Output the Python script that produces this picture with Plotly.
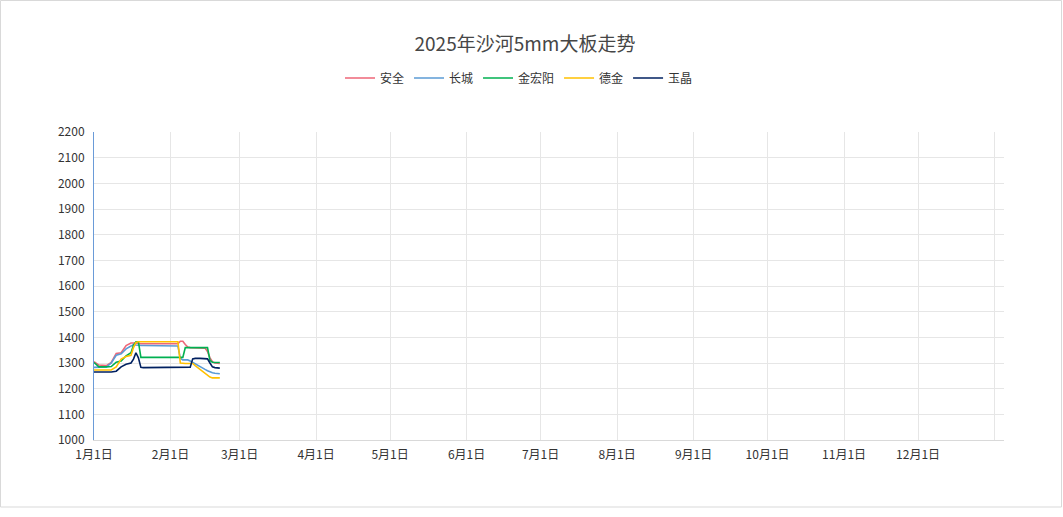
import plotly.graph_objects as go

# 2025 daily quotes (yuan/ton), sampled where the lines change
dates = [
    "2025-01-01", "2025-01-03", "2025-01-06", "2025-01-08", "2025-01-10",
    "2025-01-12", "2025-01-14", "2025-01-16", "2025-01-17", "2025-01-18",
    "2025-01-19", "2025-01-20", "2025-01-21", "2025-01-26", "2025-01-31",
    "2025-02-04", "2025-02-05", "2025-02-06", "2025-02-07", "2025-02-08",
    "2025-02-09", "2025-02-10", "2025-02-11", "2025-02-13", "2025-02-15",
    "2025-02-16", "2025-02-17", "2025-02-18", "2025-02-19", "2025-02-21",
]
anquan = [1305, 1292, 1290, 1302, 1337, 1340, 1368, 1378, 1378, 1376,
          1375, 1375, 1375, 1375, 1375, 1375, 1385, 1385, 1372, 1362,
          1360, 1360, 1360, 1360, 1358, 1345, 1320, 1305, 1300, 1298]
changcheng = [1283, 1283, 1285, 1300, 1330, 1336, 1355, 1366, 1372, 1370,
              1368, 1368, 1368, 1368, 1368, 1366, 1318, 1312, 1312, 1312,
              1308, 1302, 1298, 1286, 1275, 1270, 1265, 1262, 1260, 1258]
jinhongyang = [1302, 1285, 1285, 1286, 1303, 1308, 1328, 1340, 1370, 1383,
               1383, 1322, 1322, 1322, 1322, 1322, 1322, 1322, 1360, 1360,
               1360, 1360, 1360, 1360, 1360, 1360, 1310, 1303, 1302, 1302]
dejin = [1273, 1273, 1273, 1273, 1285, 1315, 1325, 1330, 1360, 1380,
         1383, 1383, 1383, 1383, 1383, 1383, 1300, 1298, 1298, 1298,
         1298, 1298, 1290, 1275, 1260, 1250, 1245, 1242, 1242, 1242]
yujing = [1265, 1265, 1265, 1265, 1268, 1285, 1295, 1300, 1315, 1340,
          1320, 1283, 1282, 1282, 1282, 1282, 1282, 1282, 1282, 1282,
          1284, 1316, 1318, 1318, 1318, 1316, 1300, 1285, 1282, 1280]

series_names = ["安全", "长城", "金宏阳", "德金", "玉晶"]
series_values = [anquan, changcheng, jinhongyang, dejin, yujing]
colors = ["#ee6677", "#5b9bd5", "#00b050", "#ffc000", "#002060"]

tick_dates = ["2025-%02d-01" % m for m in range(1, 13)] + ["2026-01-01"]
tick_labels = ["%d月1日" % m for m in range(1, 13)] + [""]

fig = go.Figure()
for name, vals, col in zip(series_names, series_values, colors):
    fig.add_trace(go.Scatter(
        x=dates, y=vals, name=name, mode="lines",
        line=dict(color=col, width=1.6),
    ))

# plot area 94..1003 px wide, 132..440 px tall
L, R, T, B = 94, 59, 132, 77
W, H = 1063, 517
pw, ph = W - L - R, H - T - B

fig.update_layout(
    width=W, height=H,
    margin=dict(l=L, r=R, t=T, b=B),
    paper_bgcolor="white", plot_bgcolor="white",
    font=dict(family="Noto Sans CJK SC, Microsoft YaHei, sans-serif", size=12, color="#333333"),
    title=dict(
        text="2025年沙河5mm大板走势",
        x=525 / W, xanchor="center", y=1 - 44 / H, yanchor="middle",
        font=dict(size=19, color="#464646"),
    ),
    legend=dict(
        orientation="h", x=(519 - L) / pw, xanchor="center",
        y=(H - B - 78) / ph, yanchor="middle",
        font=dict(size=12, color="#333333"),
        itemwidth=30, tracegroupgap=0,
    ),
    showlegend=True,
    hovermode="x",
)

fig.update_xaxes(
    type="date",
    range=["2025-01-01", "2026-01-04 20:00"],
    tickmode="array", tickvals=tick_dates, ticktext=tick_labels,
    showgrid=True, gridcolor="#e6e6e6", gridwidth=1,
    showline=True, linecolor="#d9d9d9", linewidth=1,
    ticks="", ticklabelstandoff=4,
    tickfont=dict(size=12, color="#333333"),
    zeroline=False,
)
fig.update_yaxes(
    range=[1000, 2200], dtick=100, tick0=1000,
    showgrid=True, gridcolor="#e6e6e6", gridwidth=1,
    showline=True, linecolor="#6a9bd8", linewidth=1,
    ticks="", ticklabelstandoff=6,
    tickfont=dict(size=12, color="#333333"),
    zeroline=False,
)

# light frame around the whole chart container
fig.add_shape(
    type="rect", xref="paper", yref="paper",
    x0=(0.5 - L) / pw, x1=(W - 1.5 - L) / pw,
    y0=(H - B - 507) / ph, y1=(H - B - 0.5) / ph,
    line=dict(color="#d9d9d9", width=1), fillcolor="rgba(0,0,0,0)",
    layer="below",
)

# page has a default 8px body margin; drop it so the chart sits at the corner
fig.write_html(
    "out.html",
    config={"displayModeBar": False},
    post_script="document.body.style.margin='0';",
)
